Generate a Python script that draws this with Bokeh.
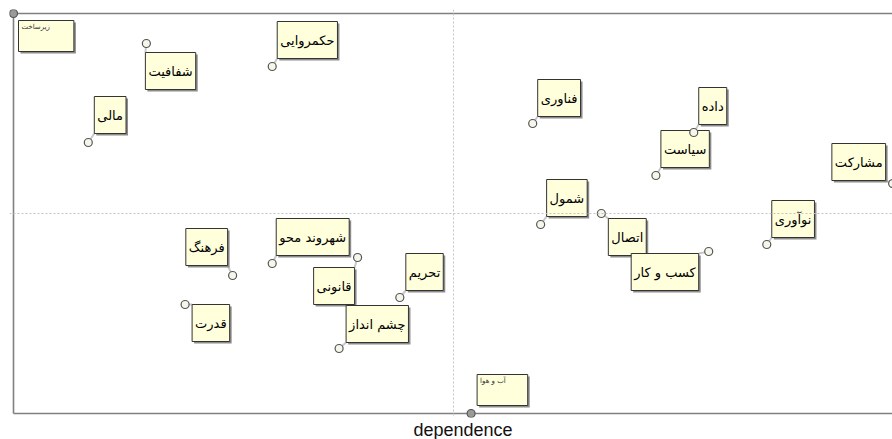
from bokeh.plotting import figure
from bokeh.models import ColumnDataSource, Range1d, Title, Span
from bokeh.embed import file_html
from bokeh.resources import INLINE
from bokeh.core.properties import value, field

# ---------------- data ----------------
factors = ["شفافیت", "حکمروایی", "مالی", "فناوری", "داده", "سیاست", "مشارکت",
           "شمول", "اتصال", "نوآوری", "کسب و کار", "فرهنگ", "شهروند محو",
           "قانونی", "تحریم", "قدرت", "چشم انداز"]
dependence = [15.1, 29.4, 8.5, 59.0, 77.3, 73.0, 99.9,
              59.9, 66.8, 85.6, 79.0, 24.9, 29.4,
              39.1, 43.9, 19.5, 37.0]
influence = [92.5, 86.75, 67.75, 72.5, 70.25, 59.5, 57.5,
             47.25, 50.0, 42.25, 40.5, 34.5, 37.5,
             39.0, 29.0, 27.25, 16.25]

small_factors = ["زیرساخت", "آب و هوا"]
small_dependence = [0.0, 52.0]
small_influence = [100.0, 0.0]

x_title = "dependence"

# ---------------- layout / style ----------------
PX_X = 8.8   # screen px per x unit
PX_Y = 4.0   # screen px per y unit
# label placement: anchor of the box and screen offset of that anchor from the point
place = {
    "شفافیت": ("top_left", -1, 9),
    "حکمروایی": ("bottom_left", 5, -8),
    "مالی": ("bottom_left", 6, -9),
    "فناوری": ("bottom_left", 5, -7),
    "داده": ("bottom_left", 5, -8),
    "سیاست": ("bottom_left", 5, -8),
    "مشارکت": ("bottom_right", -7, -3),
    "شمول": ("bottom_left", 6, -8),
    "اتصال": ("top_left", 7, 5),
    "نوآوری": ("bottom_left", 5, -7),
    "کسب و کار": ("top_right", -10, 2),
    "فرهنگ": ("bottom_right", -5, -10),
    "شهروند محو": ("bottom_left", 4, -8),
    "قانونی": ("top_right", -3, 10),
    "تحریم": ("bottom_left", 6, -7),
    "قدرت": ("top_left", 7, 0),
    "چشم انداز": ("bottom_left", 7, -6),
}
small_place = {"زیرساخت": (5, 7, 24), "آب و هوا": (6, -39, 22)}

anchors = [place[f][0] for f in factors]
dxs = [place[f][1] for f in factors]
dys = [place[f][2] for f in factors]

src = ColumnDataSource(dict(
    x=dependence, y=influence, label=factors,
    anchor=anchors, dx=dxs, dy=dys,
    sdx=[d + 2 for d in dxs], sdy=[d + 2 for d in dys],
    x1=[x + d / PX_X for x, d in zip(dependence, dxs)],
    y1=[y - d / PX_Y for y, d in zip(influence, dys)],
))

p = figure(
    output_backend="svg", toolbar_location=None,
    frame_width=883, frame_height=408,
    x_range=Range1d(-4 / PX_X, -4 / PX_X + 883 / PX_X),
    y_range=Range1d(-1, 101),
    x_axis_location=None, y_axis_location=None,
    min_border_left=9, min_border_right=0, min_border_top=9, min_border_bottom=0,
    background_fill_color="white", border_fill_color="white",
)
p.outline_line_color = None
p.xgrid.visible = False
p.ygrid.visible = False

# quadrant dividers
p.add_layout(Span(location=50, dimension="height", line_color="#c4c4c4", line_dash="2 2", line_width=1))
p.add_layout(Span(location=50, dimension="width", line_color="#c4c4c4", line_dash="2 2", line_width=1))

# frame lines (left, top, bottom)
p.multi_line(xs=[[0, 0], [0, 120], [0, 120]], ys=[[0, 100], [100, 100], [0, 0]],
             line_color="#808080", line_width=1.6)

# connectors
p.segment(x0="x", y0="y", x1="x1", y1="y1", source=src, line_color="#c8c8c8", line_width=2)

box_pad = dict(left=3, right=3, top=11, bottom=11)
lab_font = value("DejaVu Sans")
lab_size = "13px"
# shadows
p.text(x="x", y="y", text="label", source=src, x_offset="sdx", y_offset="sdy",
       anchor=field("anchor"), text_font=lab_font, text_font_size=lab_size,
       text_alpha=0, background_fill_color="#8c8c8c", border_line_color=None,
       padding=box_pad)
# boxes
p.text(x="x", y="y", text="label", source=src, x_offset="dx", y_offset="dy",
       anchor=field("anchor"), text_font=lab_font, text_font_size=lab_size,
       text_color="#000000", background_fill_color="#ffffdc",
       border_line_color="#333333", border_line_width=1, padding=box_pad)

# small boxes
for f, xv, yv in zip(small_factors, small_dependence, small_influence):
    sdx, sdy, pad_r = small_place[f]
    s = ColumnDataSource(dict(x=[xv], y=[yv], label=[f]))
    sp = dict(left=3, right=pad_r, top=2, bottom=21)
    p.text(x="x", y="y", text="label", source=s, x_offset=sdx + 2, y_offset=sdy + 2,
           anchor="top_left", text_font=lab_font, text_font_size="7px",
           text_alpha=0, background_fill_color="#8c8c8c", border_line_color=None, padding=sp)
    p.text(x="x", y="y", text="label", source=s, x_offset=sdx, y_offset=sdy,
           anchor="top_left", text_font=lab_font, text_font_size="7px",
           text_color="#333333", background_fill_color="#ffffdc",
           border_line_color="#333333", border_line_width=1, padding=sp)

# points
p.scatter(x="x", y="y", source=src, size=8, fill_color="#f6f6ea",
          line_color="#555555", line_width=1.2)
p.scatter(x=small_dependence, y=small_influence, size=8, fill_color="#9a9a9a",
          line_color="#555555", line_width=1.2)

p.add_layout(Title(text=x_title, align="left", offset=404, standoff=0,
                   text_font="Liberation Sans", text_font_size="18px",
                   text_line_height=0.8,
                   text_font_style="normal", text_color="#111111"), "below")

open("out.html", "w").write(file_html(p, INLINE))
